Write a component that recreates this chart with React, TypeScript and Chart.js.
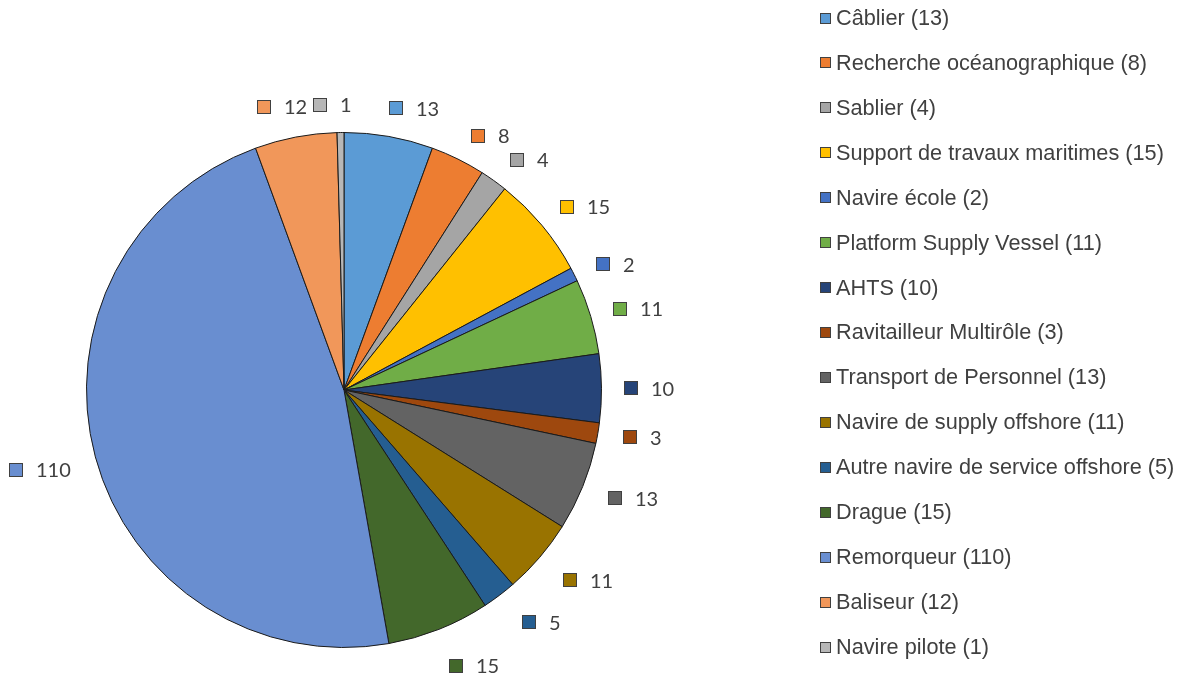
import React, { useEffect, useRef } from "react";
import { Chart, registerables } from "chart.js";
Chart.register(...registerables);

const categories = [
  "Câblier",
  "Recherche océanographique",
  "Sablier",
  "Support de travaux maritimes",
  "Navire école",
  "Platform Supply Vessel",
  "AHTS",
  "Ravitailleur Multirôle",
  "Transport de Personnel",
  "Navire de supply offshore",
  "Autre navire de service offshore",
  "Drague",
  "Remorqueur",
  "Baliseur",
  "Navire pilote",
];
const values = [13, 8, 4, 15, 2, 11, 10, 3, 13, 11, 5, 15, 110, 12, 1];
const colors = [
  "#5B9BD5",
  "#ED7D31",
  "#A5A5A5",
  "#FFC000",
  "#4472C4",
  "#70AD47",
  "#264478",
  "#9E480E",
  "#636363",
  "#997300",
  "#255E91",
  "#43682B",
  "#698ED0",
  "#F1975A",
  "#B7B7B7",
];

const TEXT = "#404040";

const labelPlugin = {
  id: "outLabels",
  afterDraw(chart: any) {
    const ctx = chart.ctx as CanvasRenderingContext2D;
    const meta = chart.getDatasetMeta(0);
    ctx.save();
    ctx.font = "20px Lato";
    ctx.textBaseline = "middle";
    ctx.lineWidth = 1;
    meta.data.forEach((arc: any, i: number) => {
      const p = arc.getProps(["startAngle", "endAngle", "x", "y", "outerRadius"], true);
      const mid = (p.startAngle + p.endAngle) / 2;
      // angle measured clockwise from the top
      let t = mid + Math.PI / 2;
      t = ((t % (2 * Math.PI)) + 2 * Math.PI) % (2 * Math.PI);
      const right = Math.sin(t) >= 0;
      const target = right ? Math.PI / 2 : (3 * Math.PI) / 2;
      const delta = (((right ? 4 : 1.5) * Math.PI) / 180) * Math.abs(Math.cos(t));
      const tp = t + (target > t ? delta : -delta);
      const text = String(values[i]);
      const tw = ctx.measureText(text).width;
      const w = 14 + 13 + tw;
      const h = 20;
      const sx = Math.sin(tp);
      const cy0 = -Math.cos(tp);
      const g = 22.5 - 5.5 * Math.cos(t);
      const d = p.outerRadius + g + (w / 2) * Math.abs(sx) + (h / 2) * Math.abs(cy0);
      const cx = p.x + d * sx;
      const cy = p.y + d * cy0;
      const left = Math.round(cx - w / 2);
      const my = Math.round(cy - 7);
      ctx.fillStyle = colors[i];
      ctx.fillRect(left + 0.5, my + 0.5, 13, 13);
      ctx.strokeStyle = TEXT;
      ctx.strokeRect(left + 0.5, my + 0.5, 13, 13);
      ctx.fillStyle = TEXT;
      ctx.textAlign = "left";
      ctx.fillText(text, left + 27, cy + 1);
    });

    // legend
    ctx.font = "21.7px 'Liberation Sans', Arial, sans-serif";
    const top = 18;
    const step = (647 - 18) / 14;
    categories.forEach((cat, i) => {
      const y = top + i * step;
      const mx = 820;
      const myy = Math.round(y - 5.5);
      ctx.fillStyle = colors[i];
      ctx.fillRect(mx + 0.5, myy + 0.5, 10, 10);
      ctx.strokeStyle = TEXT;
      ctx.strokeRect(mx + 0.5, myy + 0.5, 10, 10);
      ctx.fillStyle = TEXT;
      ctx.fillText(`${cat} (${values[i]})`, 836, y + 1);
    });
    ctx.restore();
  },
};

export default function App() {
  const ref = useRef<HTMLCanvasElement>(null);
  useEffect(() => {
    if (!ref.current) return;
    const chart = new Chart(ref.current, {
      type: "pie",
      data: {
        labels: categories,
        datasets: [
          {
            data: values,
            backgroundColor: colors,
            borderColor: "#1a1a1a",
            borderWidth: 1,
            hoverOffset: 0,
          },
        ],
      },
      options: {
        responsive: false,
        animation: false,
        events: [],
        layout: { padding: { left: 86, top: 132, right: 585, bottom: 25 } },
        plugins: {
          legend: { display: false },
          tooltip: { enabled: false },
        },
      },
      plugins: [labelPlugin],
    });
    return () => chart.destroy();
  }, []);
  return (
    <div style={{ position: "fixed", left: 0, top: 0, width: 1187, height: 673, background: "#fff" }}>
      <canvas ref={ref} width={1187} height={673} style={{ width: 1187, height: 673 }} />
    </div>
  );
}
